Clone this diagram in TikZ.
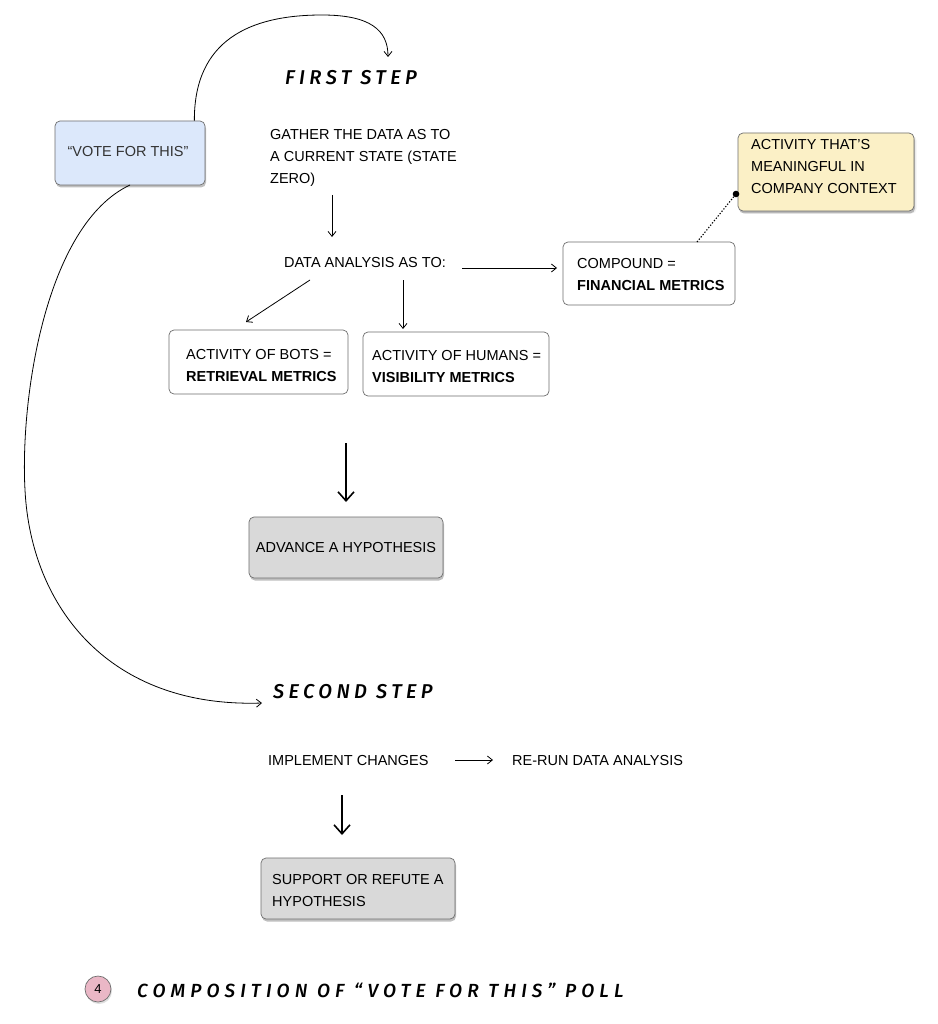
\documentclass[tikz,border=0pt]{standalone}
\usepackage{fontspec}
\setmainfont{Liberation Sans}
\newfontfamily\hand[LetterSpace=22]{Fira Sans Medium Italic}
\usetikzlibrary{arrows.meta,shadows,positioning}
\definecolor{boxline}{HTML}{6E6E6E}
\definecolor{voteblue}{HTML}{DCE8FB}
\definecolor{noteyellow}{HTML}{FBF0C6}
\definecolor{hypgray}{HTML}{D9D9D9}
\definecolor{circpink}{HTML}{EAB7C6}
\tikzset{
  every node/.style={font=\fontsize{14.5}{22}\selectfont, text=black},
  whitebox/.style={draw=boxline, line width=0.7pt, rounded corners=5pt, fill=white, inner sep=0pt},
  shadowbox/.style={draw=boxline, line width=0.7pt, rounded corners=5pt, inner sep=0pt,
     drop shadow={shadow xshift=1pt, shadow yshift=-2.5pt, opacity=0.25, fill=black}},
  plain/.style={inner sep=0pt, align=left},
  handtext/.style={inner sep=0pt, font=\hand\fontsize{20}{22}\selectfont},
  arr/.style={-{Straight Barb[length=5pt,width=8pt]}, line width=0.8pt},
  bigarr/.style={-{Straight Barb[length=9pt,width=16pt]}, line width=1.6pt},
}
\begin{document}
\begin{tikzpicture}[x=1pt,y=-1pt]
\useasboundingbox (0,0) rectangle (937,1024);
\fill[white] (0,0) rectangle (937,1024);

% vote box
\node[shadowbox, fill=voteblue, minimum width=150pt, minimum height=64pt] (vote) at (130,153) {};
\node[plain, text=black!80] (votet) at (128,152) {“VOTE FOR THIS”};

% first step
\node[handtext, anchor=west] (first) at (285,78) {FIRST STEP};
\coordinate (firsttip) at (388,57);
\draw[arr] (vote.north east) ++(-11,0) coordinate (vstart)
  .. controls (194,40) and (250,15) .. (322,15)
  .. controls (370,15) and (388,30) .. (firsttip);

% gather
\node[plain, anchor=west] (gather) at (270,158) {GATHER THE DATA AS TO\\A CURRENT STATE (STATE\\ZERO)};
\node[plain] (analysis) at (365,263) {DATA ANALYSIS AS TO:};
\coordinate (g1) at (332,195);
\coordinate (g2) at (332,237);
\draw[arr] (g1) -- (g2);

% compound
\node[whitebox, minimum width=172pt, minimum height=63pt] (comp) at (649,273.5) {};
\node[plain, anchor=west] (compt) at (577,275) {COMPOUND =\\\textbf{FINANCIAL METRICS}};
\coordinate (a1) at (462,268);
\coordinate (a2) at (557,268);
\draw[arr] (a1) -- (a2);

% yellow note
\node[shadowbox, fill=noteyellow, minimum width=176pt, minimum height=78pt, drop shadow={opacity=0.1}] (note) at (826,172) {};
\node[plain, anchor=west] (notet) at (751,167) {ACTIVITY THAT’S\\MEANINGFUL IN\\COMPANY CONTEXT};
\coordinate (dotp) at (736,194);
\coordinate (dstart) at (697,242);
\draw[line width=1.1pt, dash pattern=on 1.3pt off 1.7pt] (dstart) -- (dotp);
\fill (dotp) circle (3.3pt);

% bots & humans
\node[whitebox, minimum width=179pt, minimum height=64pt] (bots) at (258.5,362) {};
\node[plain, anchor=west] (botst) at (186,366) {ACTIVITY OF BOTS =\\\textbf{RETRIEVAL METRICS}};
\node[whitebox, minimum width=186pt, minimum height=64pt] (hum) at (456,364) {};
\node[plain, anchor=west] (humt) at (372,367) {ACTIVITY OF HUMANS =\\\textbf{VISIBILITY METRICS}};
\coordinate (b1) at (310,280);
\coordinate (b2) at (246,322);
\draw[arr] (b1) -- (b2);
\coordinate (h1) at (403,280);
\coordinate (h2) at (403,329);
\draw[arr] (h1) -- (h2);

% advance
\coordinate (c1) at (346,443);
\node[shadowbox, fill=hypgray, minimum width=194pt, minimum height=61pt] (adv) at (346,547.5) {};
\node[plain] (advt) at (346,548) {ADVANCE A HYPOTHESIS};
\coordinate (c2) at (346,502);
\draw[bigarr] (c1) -- (c2);

% big loop
\coordinate (vbot) at (130,185);
\coordinate (stip) at (262,703);
\draw[arr] (vbot) .. controls (45,225) and (20,400) .. (25,490)
  .. controls (31,608) and (110,708) .. (stip);
\node[handtext, anchor=west] (second) at (273,692) {SECOND STEP};

% implement
\node[plain, anchor=west] (impl) at (268,760) {IMPLEMENT CHANGES};
\node[plain, anchor=west] (rerun) at (512,760) {RE-RUN DATA ANALYSIS};
\coordinate (i1) at (455,760);
\coordinate (i2) at (493,760);
\draw[arr] (i1) -- (i2);
\coordinate (d1) at (342,795);
\coordinate (d2) at (342,835);
\draw[bigarr] (d1) -- (d2);

% support
\node[shadowbox, fill=hypgray, minimum width=194pt, minimum height=61pt] (supp) at (358,888.5) {};
\node[plain, anchor=west] (suppt) at (272,890) {SUPPORT OR REFUTE A\\HYPOTHESIS};

% footer
\node[circle, draw=boxline, line width=0.7pt, fill=circpink, minimum size=26pt, inner sep=0pt,
  drop shadow={shadow xshift=1pt, shadow yshift=-2pt, opacity=0.25}] (num) at (98,989) {\fontsize{13}{13}\selectfont 4};
\node[inner sep=0pt, anchor=west, font=\hand\addfontfeature{LetterSpace=27}\fontsize{19}{22}\selectfont] (comp2) at (137,990) {COMPOSITION OF “VOTE FOR THIS” POLL};
\end{tikzpicture}
\end{document}
